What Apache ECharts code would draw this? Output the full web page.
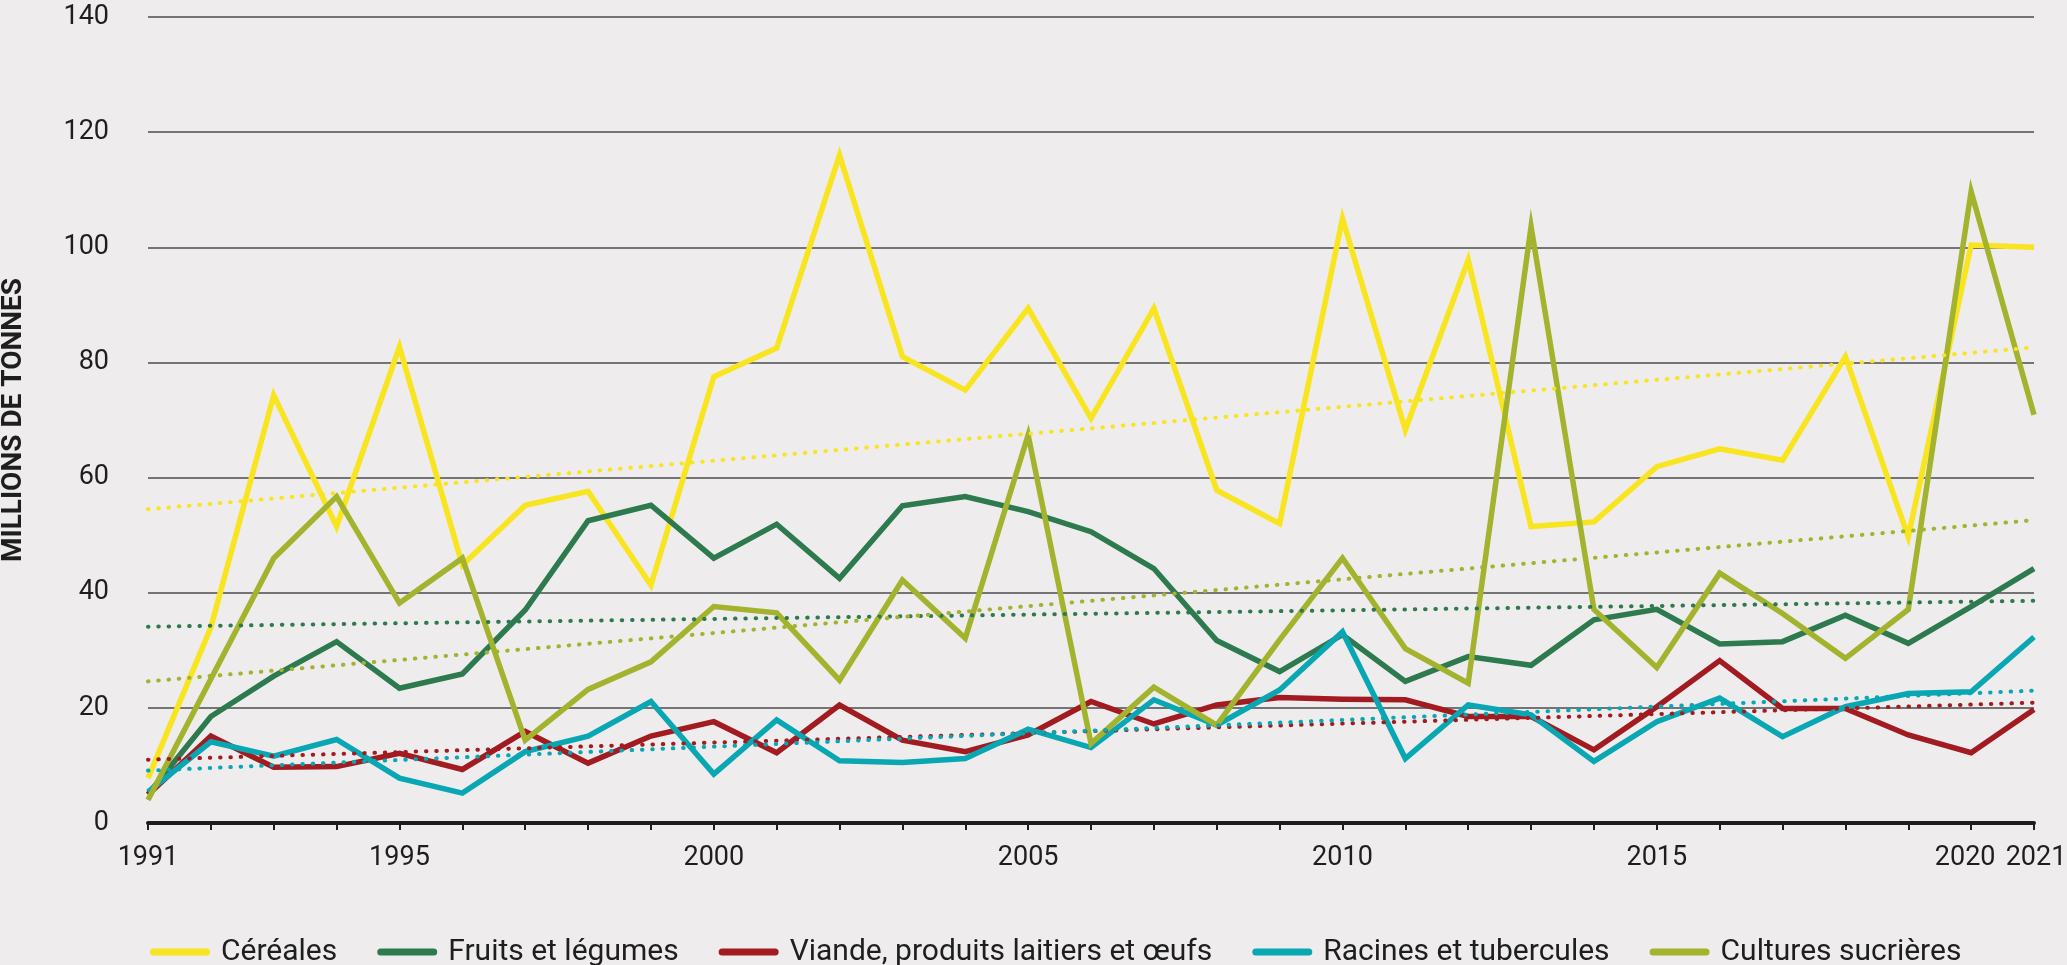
<!DOCTYPE html>
<html>
<head>
<meta charset="utf-8">
<script src="https://cdn.jsdelivr.net/npm/echarts@6/dist/echarts.min.js"></script>
<style>
html, body { margin: 0; padding: 0; background: #EEECEC; }
#chart { width: 2067px; height: 965px; }
</style>
</head>
<body>
<div id="chart"></div>
<script>
// ---- Data ----
const years = ['1991','1992','1993','1994','1995','1996','1997','1998','1999','2000',
  '2001','2002','2003','2004','2005','2006','2007','2008','2009','2010',
  '2011','2012','2013','2014','2015','2016','2017','2018','2019','2020','2021'];
const shownYearLabels = ['1991','1995','2000','2005','2010','2015','2020','2021'];

const cereales = [7.8, 34, 74.3, 51.5, 82.7, 44.8, 55.2, 57.6, 41.3, 77.5,
  82.5, 116, 81, 75.2, 89.4, 70.3, 89.4, 57.8, 52, 105,
  68.3, 97.8, 51.5, 52.3, 61.9, 65, 63, 81, 49.7, 100.4, 100];
const fruitsLegumes = [5, 18.5, 25.5, 31.5, 23.4, 25.9, 37, 52.5, 55.2, 46,
  51.9, 42.5, 55.1, 56.7, 54.1, 50.6, 44.2, 31.7, 26.3, 32.7,
  24.6, 28.9, 27.4, 35.3, 37.1, 31.1, 31.5, 36.1, 31.2, 37.6, 44.2];
const viande = [4.9, 15.1, 9.7, 9.8, 12.1, 9.3, 15.9, 10.4, 15.1, 17.6,
  12.2, 20.5, 14.4, 12.4, 15.3, 21.1, 17.2, 20.5, 21.8, 21.5,
  21.4, 18.5, 18.5, 12.7, 20.2, 28.2, 19.9, 19.9, 15.3, 12.2, 19.7];
const racines = [5.4, 14.1, 11.6, 14.5, 7.8, 5.2, 12.4, 15.1, 21.1, 8.5,
  17.9, 10.8, 10.5, 11.2, 16.3, 13.1, 21.4, 17, 23.1, 33.2,
  11.2, 20.5, 18.8, 10.7, 17.6, 21.7, 15, 20.2, 22.5, 22.8, 32.3];
const sucrieres = [4, 25, 46, 56.7, 38.2, 46, 14.4, 23.2, 28, 37.6,
  36.5, 24.8, 42.2, 32.1, 67.4, 13.8, 23.6, 17, 31.8, 46,
  30.3, 24.3, 103.6, 37.1, 27, 43.4, 36.4, 28.6, 37.1, 109.7, 70.9];

// Trend lines: values at 1991 and at 2021
const trendCereales = [54.5, 82.6];
const trendFruits = [34.1, 38.6];
const trendViande = [11.0, 20.9];
const trendRacines = [9.1, 23.0];
const trendSucrieres = [24.6, 52.6];

const seriesNames = ['Céréales', 'Fruits et légumes', 'Viande, produits laitiers et œufs',
  'Racines et tubercules', 'Cultures sucrières'];
const yMin = 0, yMax = 140, yStep = 20;

// ---- Styling ----
const colors = ['#F8E41F', '#2E7A4F', '#A11B21', '#08A7B3', '#A3B32D'];
const FONT = "Roboto, 'Liberation Sans', sans-serif";
const TEXT = '#1e1e1e';
const TICK_FS = 27;

const values = [cereales, fruitsLegumes, viande, racines, sucrieres];
const trends = [trendCereales, trendFruits, trendViande, trendRacines, trendSucrieres];

function trendData(t) {
  const arr = years.map(() => null);
  arr[0] = t[0];
  arr[years.length - 1] = t[1];
  return arr;
}

const series = [];
values.forEach((v, i) => {
  series.push({
    name: seriesNames[i], type: 'line', data: v, symbol: 'none',
    lineStyle: { width: 5.5, color: colors[i], join: 'miter' },
    itemStyle: { color: colors[i] },
    z: 2 + i
  });
});
trends.forEach((t, i) => {
  series.push({
    name: seriesNames[i] + ' (tendance)', type: 'line', data: trendData(t),
    connectNulls: true, symbol: 'none', silent: true,
    lineStyle: { width: 4, color: colors[i], type: [0.5, 9.8], cap: 'round' },
    itemStyle: { color: colors[i] },
    z: 10 + i
  });
});

const labelBase = { fontSize: TICK_FS, color: TEXT, fontFamily: FONT };

const chart = echarts.init(document.getElementById('chart'), null, { renderer: 'canvas' });
chart.setOption({
  backgroundColor: '#EEECEC',
  animation: false,
  grid: { left: 148, right: 33, top: 17, bottom: 142, containLabel: false, outerBoundsMode: 'none' },
  legend: {
    data: seriesNames,
    left: 145, top: 927,
    itemWidth: 60, itemHeight: 7, itemGap: 40,
    icon: 'path://M3.5,0 L56.5,0 A3.5,3.5 0 0 1 56.5,7 L3.5,7 A3.5,3.5 0 0 1 3.5,0 Z',
    textStyle: { fontSize: 30, color: TEXT, fontFamily: FONT, padding: [0, 0, 0, 6], lineHeight: 40 }
  },
  xAxis: {
    type: 'category', data: years, boundaryGap: false,
    axisLine: { lineStyle: { color: TEXT, width: 4 } },
    axisTick: { show: true, interval: 0, length: 7, lineStyle: { color: TEXT, width: 2 } },
    axisLabel: {
      interval: (idx, val) => shownYearLabels.includes(val),
      hideOverlap: false, showMinLabel: true, showMaxLabel: true,
      margin: 22, fontSize: TICK_FS, color: TEXT, fontFamily: FONT,
      formatter: (val) => val === '2020' ? '{l|' + val + '}' : (val === '2021' ? '{r|' + val + '}' : '{n|' + val + '}'),
      rich: {
        n: Object.assign({}, labelBase),
        l: Object.assign({ padding: [0, 12, 0, 0] }, labelBase),
        r: Object.assign({ padding: [0, 0, 0, 4] }, labelBase)
      }
    },
    splitLine: { show: false }
  },
  yAxis: {
    type: 'value', min: yMin, max: yMax, interval: yStep,
    name: 'MILLIONS DE TONNES', nameLocation: 'middle', nameGap: 120,
    nameTextStyle: { fontSize: 28, fontWeight: 'bold', color: TEXT, fontFamily: FONT },
    axisLine: { show: false }, axisTick: { show: false },
    axisLabel: { margin: 39, fontSize: TICK_FS, color: TEXT, fontFamily: FONT, padding: [0, 0, 10, 0] },
    splitLine: { lineStyle: { color: '#4d4d4d', width: 1.5 } }
  },
  series: series
});
</script>
</body>
</html>
